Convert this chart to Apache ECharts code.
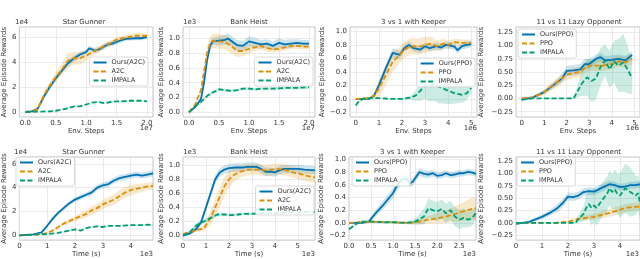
<!DOCTYPE html>
<html><head><meta charset="utf-8">
<script src="https://cdn.jsdelivr.net/npm/echarts@6/dist/echarts.min.js"></script>
<style>html,body{margin:0;padding:0;background:#fff}#c{width:640px;height:259px}</style>
</head><body><div id="c"></div>
<script>
// ---- DATA: each point is [x, mean, half-width of shaded band] ----
// Panel 1: Star Gunner vs Env. Steps (x: 1e7, y: 1e4)
const sgEnvOurs = [[0,0,0],[0.1,0.05,0.03],[0.2,0.25,0.1],[0.3,1.2,0.15],[0.4,2.0,0.15],[0.5,2.7,0.2],[0.6,3.3,0.2],[0.7,3.9,0.25],[0.8,4.3,0.25],[0.9,4.6,0.25],[1.0,4.8,0.2],[1.05,5.1,0.2],[1.15,4.9,0.2],[1.25,5.1,0.2],[1.35,5.4,0.2],[1.45,5.5,0.2],[1.55,5.7,0.2],[1.65,5.85,0.15],[1.8,5.9,0.15],[1.9,5.9,0.15],[2.0,6.0,0.15]];
const sgEnvA2C = [[0,0,0],[0.1,0.05,0.03],[0.2,0.2,0.1],[0.3,1.3,0.2],[0.4,2.1,0.3],[0.5,2.8,0.4],[0.6,3.4,0.5],[0.7,4.1,0.6],[0.8,4.3,0.5],[0.9,4.3,0.5],[1.0,4.5,0.4],[1.1,4.8,0.3],[1.2,5.0,0.25],[1.3,5.3,0.2],[1.4,5.5,0.2],[1.5,5.8,0.2],[1.6,5.9,0.2],[1.7,6.0,0.2],[1.8,6.1,0.2],[1.9,6.1,0.2],[2.0,6.1,0.15]];
const sgEnvImpala = [[0,0,0],[0.2,0.03,0.02],[0.4,0.05,0.03],[0.5,0.1,0.05],[0.6,0.2,0.05],[0.7,0.3,0.05],[0.8,0.45,0.05],[0.9,0.45,0.05],[1.0,0.6,0.05],[1.1,0.75,0.05],[1.2,0.8,0.05],[1.3,0.7,0.05],[1.4,0.8,0.05],[1.5,0.85,0.05],[1.6,0.85,0.05],[1.7,0.9,0.05],[1.8,0.9,0.05],[1.9,0.9,0.05],[2.0,0.85,0.05]];
// Panel 2: Bank Heist vs Env. Steps (x: 1e7, y: 1e3)
const bhEnvOurs = [[0,0,0],[0.1,0.07,0.02],[0.2,0.18,0.03],[0.25,0.4,0.05],[0.3,0.7,0.06],[0.35,0.9,0.06],[0.4,0.96,0.05],[0.5,0.97,0.06],[0.6,0.98,0.07],[0.65,1.0,0.07],[0.7,0.97,0.07],[0.8,0.91,0.07],[0.9,0.9,0.07],[1.0,0.96,0.07],[1.1,0.94,0.07],[1.2,0.92,0.06],[1.3,0.93,0.06],[1.4,0.9,0.06],[1.5,0.94,0.06],[1.6,0.92,0.06],[1.7,0.93,0.06],[1.8,0.94,0.05],[1.9,0.93,0.05],[2.0,0.93,0.05]];
const bhEnvA2C = [[0,0,0],[0.1,0.1,0.02],[0.2,0.3,0.04],[0.25,0.55,0.06],[0.3,0.8,0.08],[0.35,0.93,0.1],[0.4,0.97,0.1],[0.5,0.96,0.1],[0.6,0.95,0.1],[0.7,0.9,0.1],[0.8,0.83,0.08],[0.9,0.83,0.07],[1.0,0.86,0.06],[1.1,0.88,0.05],[1.2,0.9,0.05],[1.3,0.87,0.05],[1.4,0.85,0.04],[1.5,0.86,0.04],[1.6,0.88,0.04],[1.7,0.9,0.04],[1.8,0.9,0.04],[1.9,0.89,0.04],[2.0,0.89,0.04]];
const bhEnvImpala = [[0,0,0],[0.1,0.08,0.01],[0.2,0.14,0.02],[0.3,0.22,0.02],[0.4,0.27,0.02],[0.5,0.31,0.02],[0.6,0.3,0.02],[0.7,0.29,0.02],[0.8,0.3,0.02],[0.9,0.32,0.02],[1.0,0.32,0.02],[1.1,0.31,0.02],[1.2,0.32,0.02],[1.4,0.32,0.02],[1.6,0.33,0.02],[1.8,0.33,0.02],[2.0,0.34,0.02]];
// Panel 3: 3 vs 1 with Keeper vs Env. Steps (x: 1e6)
const kpEnvOurs = [[0,0,0.01],[0.3,0,0.01],[0.6,0,0.01],[0.8,0.05,0.03],[1.0,0.2,0.05],[1.3,0.45,0.06],[1.6,0.68,0.07],[1.9,0.65,0.06],[2.1,0.75,0.05],[2.3,0.8,0.05],[2.5,0.75,0.05],[2.8,0.73,0.05],[3.0,0.78,0.05],[3.2,0.75,0.05],[3.5,0.78,0.05],[3.7,0.76,0.05],[3.9,0.8,0.05],[4.1,0.79,0.05],[4.3,0.77,0.05],[4.4,0.72,0.05],[4.6,0.78,0.05],[4.8,0.8,0.05],[5.0,0.81,0.05]];
const kpEnvPPO = [[0,0,0.01],[0.6,0.01,0.01],[0.8,0.05,0.05],[1.0,0.15,0.12],[1.3,0.35,0.15],[1.6,0.55,0.15],[1.9,0.65,0.12],[2.1,0.73,0.12],[2.4,0.78,0.12],[2.7,0.77,0.12],[3.0,0.8,0.12],[3.3,0.82,0.1],[3.5,0.78,0.08],[3.8,0.82,0.07],[4.0,0.8,0.06],[4.3,0.84,0.05],[4.6,0.83,0.05],[5.0,0.83,0.05]];
const kpEnvImpala = [[0,-0.1,0.02],[0.1,-0.05,0.02],[0.3,0,0.02],[0.6,0.01,0.01],[1.0,0.01,0.01],[1.5,0,0.01],[2.0,0,0.01],[2.4,0.02,0.03],[2.6,0.05,0.08],[2.8,0.12,0.15],[3.0,0.2,0.2],[3.2,0.18,0.22],[3.4,0.22,0.25],[3.6,0.18,0.25],[3.8,0.15,0.22],[4.0,0.12,0.2],[4.3,0.08,0.15],[4.6,0.06,0.12],[4.8,0.08,0.1],[5.0,0.16,0.08]];
// Panel 4: 11 vs 11 Lazy Opponent vs Env. Steps (x: 1e6)
const lzEnvOurs = [[0,-0.02,0.02],[0.5,0.02,0.02],[1.0,0.12,0.04],[1.5,0.28,0.06],[1.8,0.38,0.08],[2.0,0.52,0.1],[2.3,0.53,0.1],[2.6,0.55,0.1],[2.8,0.65,0.1],[3.0,0.65,0.1],[3.3,0.75,0.08],[3.5,0.78,0.08],[3.7,0.72,0.08],[4.0,0.73,0.08],[4.3,0.75,0.08],[4.6,0.72,0.08],[4.9,0.82,0.07]];
const lzEnvPPO = [[0,0,0.02],[0.5,0.02,0.02],[1.0,0.12,0.05],[1.5,0.28,0.08],[2.0,0.45,0.1],[2.3,0.48,0.1],[2.6,0.5,0.1],[2.8,0.58,0.1],[3.0,0.62,0.1],[3.3,0.62,0.1],[3.6,0.62,0.1],[4.0,0.65,0.1],[4.3,0.7,0.1],[4.6,0.68,0.1],[4.9,0.75,0.1]];
const lzEnvImpala = [[0,-0.02,0.01],[0.5,0,0.01],[1.0,0,0.01],[1.5,0,0.01],[2.0,0,0.01],[2.3,0,0.02],[2.5,0.15,0.12],[2.7,0.3,0.25],[2.9,0.4,0.35],[3.1,0.33,0.4],[3.3,0.38,0.4],[3.5,0.6,0.35],[3.7,0.72,0.3],[3.9,0.55,0.35],[4.1,0.7,0.4],[4.3,0.62,0.5],[4.5,0.68,0.55],[4.7,0.55,0.45],[4.9,0.38,0.3]];
// Panel 5: Star Gunner vs Time (x: 1e3 s, y: 1e4)
const sgTimeOurs = [[0,0,0.02],[0.5,0.08,0.03],[0.8,0.25,0.05],[1.0,0.8,0.1],[1.2,1.4,0.15],[1.4,1.9,0.15],[1.6,2.3,0.2],[1.8,2.7,0.2],[2.0,3.0,0.2],[2.2,3.2,0.2],[2.4,3.4,0.2],[2.6,3.6,0.25],[2.8,4.0,0.25],[3.0,4.2,0.25],[3.2,4.3,0.25],[3.4,4.6,0.25],[3.6,4.8,0.25],[3.8,4.9,0.25],[4.0,5.0,0.25],[4.2,5.1,0.25],[4.4,5.0,0.25],[4.6,5.1,0.25],[4.8,5.2,0.25]];
const sgTimeA2C = [[0,0,0.02],[0.8,0.1,0.03],[1.0,0.2,0.05],[1.2,0.4,0.08],[1.4,0.7,0.1],[1.6,1.0,0.15],[1.8,1.2,0.2],[2.0,1.4,0.2],[2.2,1.6,0.25],[2.4,1.8,0.3],[2.6,2.1,0.35],[2.8,2.3,0.35],[3.0,2.6,0.4],[3.2,2.8,0.4],[3.4,3.0,0.45],[3.6,3.3,0.45],[3.8,3.6,0.45],[4.0,3.8,0.45],[4.2,3.9,0.4],[4.4,4.0,0.35],[4.6,4.1,0.3],[4.8,4.15,0.3]];
const sgTimeImpala = [[0,0,0.01],[1.0,0.1,0.03],[1.4,0.2,0.04],[1.8,0.4,0.05],[2.0,0.5,0.05],[2.2,0.4,0.05],[2.4,0.6,0.05],[2.6,0.7,0.05],[2.8,0.75,0.05],[3.0,0.7,0.05],[3.2,0.8,0.05],[3.6,0.8,0.05],[4.0,0.85,0.05],[4.4,0.85,0.05],[4.6,0.9,0.05],[4.8,0.85,0.05]];
// Panel 6: Bank Heist vs Time (x: 1e3 s, y: 1e3)
const bhTimeOurs = [[0,0,0.02],[0.3,0.03,0.02],[0.6,0.1,0.03],[0.8,0.2,0.04],[1.0,0.4,0.05],[1.2,0.6,0.05],[1.4,0.8,0.06],[1.6,0.9,0.06],[1.8,0.94,0.06],[2.0,0.96,0.06],[2.3,0.97,0.06],[2.6,0.97,0.06],[2.8,0.98,0.06],[3.0,0.98,0.06],[3.2,0.98,0.06],[3.4,0.95,0.06],[3.6,0.91,0.06],[3.8,0.91,0.06],[4.0,0.9,0.06],[4.2,0.93,0.06],[4.4,0.95,0.06],[4.7,0.95,0.06],[5.0,0.95,0.06],[5.3,0.94,0.06],[5.75,0.93,0.06]];
const bhTimeA2C = [[0,0.02,0.02],[0.3,0.05,0.02],[0.6,0.08,0.03],[0.9,0.1,0.04],[1.2,0.25,0.1],[1.4,0.4,0.13],[1.6,0.55,0.14],[1.8,0.7,0.14],[2.0,0.8,0.12],[2.2,0.86,0.1],[2.4,0.9,0.09],[2.6,0.92,0.08],[2.8,0.94,0.08],[3.0,0.94,0.08],[3.3,0.94,0.08],[3.6,0.93,0.08],[3.9,0.94,0.08],[4.2,0.95,0.08],[4.5,0.93,0.08],[4.8,0.9,0.08],[5.1,0.88,0.08],[5.4,0.85,0.08],[5.75,0.83,0.08]];
const bhTimeImpala = [[0,0,0.01],[0.3,0.05,0.02],[0.6,0.15,0.03],[0.9,0.2,0.03],[1.2,0.25,0.03],[1.5,0.3,0.03],[1.8,0.3,0.02],[2.1,0.29,0.02],[2.4,0.3,0.02],[2.7,0.31,0.02],[3.0,0.31,0.02],[3.5,0.32,0.02],[4.0,0.32,0.02],[4.5,0.33,0.02],[5.0,0.33,0.02],[5.75,0.34,0.02]];
// Panel 7: 3 vs 1 with Keeper vs Time (x: 1e3 s)
const kpTimeOurs = [[0,0,0.01],[0.3,0,0.01],[0.45,0.02,0.02],[0.6,0.15,0.05],[0.8,0.3,0.07],[1.0,0.47,0.08],[1.1,0.6,0.08],[1.2,0.68,0.08],[1.3,0.7,0.07],[1.38,0.62,0.06],[1.45,0.65,0.06],[1.5,0.7,0.06],[1.6,0.8,0.06],[1.7,0.77,0.06],[1.8,0.76,0.06],[1.9,0.78,0.05],[2.0,0.74,0.05],[2.1,0.75,0.05],[2.2,0.78,0.05],[2.3,0.75,0.05],[2.4,0.76,0.05],[2.5,0.78,0.05],[2.6,0.78,0.05],[2.7,0.8,0.05],[2.8,0.79,0.05],[2.88,0.77,0.05]];
const kpTimePPO = [[0,0,0.01],[0.5,0.02,0.01],[1.0,0.01,0.01],[1.4,0,0.02],[1.6,0.02,0.04],[1.8,0.05,0.06],[2.0,0.07,0.08],[2.2,0.1,0.1],[2.4,0.14,0.12],[2.6,0.18,0.15],[2.8,0.22,0.18],[2.88,0.23,0.18]];
const kpTimeImpala = [[0,-0.1,0.02],[0.1,-0.05,0.02],[0.2,0,0.02],[0.3,0.02,0.02],[0.5,0.02,0.02],[0.8,0.01,0.02],[1.0,0.01,0.02],[1.3,0,0.02],[1.5,0.02,0.05],[1.7,0.1,0.12],[1.8,0.23,0.15],[1.9,0.2,0.15],[2.0,0.18,0.15],[2.1,0.22,0.15],[2.2,0.15,0.15],[2.3,0.2,0.15],[2.4,0.1,0.15],[2.5,0.05,0.15],[2.6,0.08,0.15],[2.7,0.05,0.12],[2.8,0.08,0.12],[2.88,0.16,0.1]];
// Panel 8: 11 vs 11 Lazy Opponent vs Time (x: 1e3 s)
const lzTimeOurs = [[0,-0.02,0.02],[0.5,0.02,0.02],[0.8,0.08,0.04],[1.0,0.12,0.05],[1.3,0.2,0.06],[1.6,0.3,0.08],[1.8,0.4,0.08],[2.0,0.53,0.08],[2.2,0.52,0.08],[2.4,0.55,0.08],[2.6,0.62,0.08],[2.8,0.64,0.08],[3.0,0.63,0.08],[3.2,0.68,0.08],[3.4,0.73,0.08],[3.6,0.78,0.07],[3.8,0.76,0.07],[4.0,0.72,0.07],[4.2,0.73,0.07],[4.4,0.76,0.07],[4.6,0.76,0.07],[4.77,0.78,0.07]];
const lzTimePPO = [[0,0,0.01],[1.0,0,0.01],[1.5,0,0.01],[2.0,0.02,0.02],[2.2,0.05,0.03],[2.4,0.08,0.04],[2.7,0.1,0.05],[3.0,0.12,0.06],[3.3,0.16,0.07],[3.6,0.2,0.08],[3.9,0.25,0.08],[4.2,0.3,0.08],[4.5,0.32,0.08],[4.77,0.33,0.08]];
const lzTimeImpala = [[0,0,0.01],[1.0,0,0.01],[2.0,0,0.01],[2.3,0,0.02],[2.4,0.08,0.08],[2.6,0.18,0.15],[2.7,0.3,0.25],[2.8,0.38,0.3],[2.9,0.3,0.35],[3.0,0.35,0.35],[3.1,0.3,0.35],[3.3,0.45,0.35],[3.5,0.58,0.35],[3.6,0.7,0.35],[3.7,0.62,0.35],[3.8,0.68,0.4],[3.9,0.58,0.4],[4.0,0.55,0.45],[4.2,0.7,0.5],[4.4,0.62,0.5],[4.6,0.55,0.4],[4.7,0.6,0.35],[4.77,0.4,0.3]];

// Tick values
const ticksEnv7 = [0,0.5,1.0,1.5,2.0];
const ticksEnv6 = [0,1,2,3,4,5];
const ticksY1e4 = [0,2,4,6];
const ticksYBank = [0,0.2,0.4,0.6,0.8,1.0];
const ticksYKeeper = [-0.2,0,0.2,0.4,0.6,0.8,1.0];
const ticksYLazy = [-0.25,0,0.25,0.5,0.75,1.0,1.25];
const ticksTimeSG = [0,1,2,3,4];
const ticksTimeBH = [0,1,2,3,4,5];
const ticksTimeKP = [0,0.5,1.0,1.5,2.0,2.5];
const ticksTimeLZ = [0,1,2,3,4];

const titles = ['Star Gunner','Bank Heist','3 vs 1 with Keeper','11 vs 11 Lazy Opponent'];

// ---- STYLE / LAYOUT ----
const FONT = 'DejaVu Sans';
const TXT = '#333';
const COL = {ours:'#0173b2', base:'#de8f05', impala:'#029e73'};
const BAND = {ours:'rgba(1,115,178,0.2)', base:'rgba(222,143,5,0.2)', impala:'rgba(2,158,115,0.2)'};

function fmt(d){ return v => (v < 0 ? '\u2212' : '') + Math.abs(v).toFixed(d); }

const panels = [
 {title:titles[0], g:[15,27,138,90], x:[-0.1,2.1,ticksEnv7,1,'Env. Steps','1e7'], y:[-0.4,6.8,ticksY1e4,0,'1e4',10],
  curves:[['Ours(A2C)',sgEnvOurs,'ours'],['A2C',sgEnvA2C,'base'],['IMPALA',sgEnvImpala,'impala']], leg:{right:492,top:57}},
 {title:titles[1], g:[183,27,132,90], x:[-0.1,2.1,ticksEnv7,1,'Env. Steps','1e7'], y:[-0.064,1.155,ticksYBank,1,'1e3',18],
  curves:[['Ours(A2C)',bhEnvOurs,'ours'],['A2C',bhEnvA2C,'base'],['IMPALA',bhEnvImpala,'impala']], leg:{right:327,top:57}},
 {title:titles[2], g:[350,27,127,90], x:[-0.25,5.25,ticksEnv6,0,'Env. Steps','1e6'], y:[-0.27,1.065,ticksYKeeper,1,null,24],
  curves:[['Ours(PPO)',kpEnvOurs,'ours'],['PPO',kpEnvPPO,'base'],['IMPALA',kpEnvImpala,'impala']], leg:{right:165,top:58}},
 {title:titles[3], g:[516,27,126,90], x:[-0.25,5.25,ticksEnv6,0,'Env. Steps','1e6'], y:[-0.35,1.35,ticksYLazy,2,null,31],
  curves:[['Ours(PPO)',lzEnvOurs,'ours'],['PPO',lzEnvPPO,'base'],['IMPALA',lzEnvImpala,'impala']], leg:{left:518,top:29}},
 {title:titles[0], g:[14,157,139,86], x:[0,4.8,ticksTimeSG,0,'Time (s)','1e3'], y:[-0.4,6.57,ticksY1e4,0,'1e4',9],
  curves:[['Ours(A2C)',sgTimeOurs,'ours'],['A2C',sgTimeA2C,'base'],['IMPALA',sgTimeImpala,'impala']], leg:{left:16,top:157}},
 {title:titles[1], g:[183,157,132,86], x:[0,5.75,ticksTimeBH,0,'Time (s)','1e3'], y:[-0.065,1.12,ticksYBank,1,'1e3',18],
  curves:[['Ours(A2C)',bhTimeOurs,'ours'],['A2C',bhTimeA2C,'base'],['IMPALA',bhTimeImpala,'impala']], leg:{right:326,top:186}},
 {title:titles[2], g:[349,157,127,86], x:[0,2.88,ticksTimeKP,1,'Time (s)','1e3'], y:[-0.27,1.035,ticksYKeeper,1,null,23],
  curves:[['Ours(PPO)',kpTimeOurs,'ours'],['PPO',kpTimePPO,'base'],['IMPALA',kpTimeImpala,'impala']], leg:{left:352,top:157}},
 {title:titles[3], g:[516,157,125,86], x:[0,4.77,ticksTimeLZ,0,'Time (s)','1e3'], y:[-0.35,1.33,ticksYLazy,2,null,31],
  curves:[['Ours(PPO)',lzTimeOurs,'ours'],['PPO',lzTimePPO,'base'],['IMPALA',lzTimeImpala,'impala']], leg:{left:517,top:157}}
];

const grid = [], xAxis = [], yAxis = [], series = [], legend = [], graphic = [];
const tStyle = {fontFamily:FONT, fontSize:7, color:TXT};

function bandRender(pts, fill) {
  return function (params, api) {
    if (params.dataIndex !== 0) return null;
    const up = pts.map(d => api.coord([d[0], d[1] + d[2]]));
    const lo = pts.map(d => api.coord([d[0], d[1] - d[2]])).reverse();
    return {type:'polygon', shape:{points: up.concat(lo)}, style:{fill: fill, stroke: null}, silent:true};
  };
}

panels.forEach((p, i) => {
  const [L,T,W,H] = p.g;
  grid.push({left:L, top:T, width:W, height:H, show:true, borderColor:'#c4c4c4', borderWidth:1, backgroundColor:'transparent'});
  xAxis.push({gridIndex:i, type:'value', min:p.x[0], max:p.x[1],
    axisLine:{show:false}, axisTick:{show:false, customValues:p.x[2]},
    axisLabel:{customValues:p.x[2], formatter:fmt(p.x[3]), fontFamily:FONT, fontSize:7, color:TXT, margin:3, showMinLabel:true, showMaxLabel:true},
    splitLine:{show:true, lineStyle:{color:'#e6e6e6', width:0.8}},
    name:p.x[4], nameLocation:'middle', nameGap:9, nameTextStyle:tStyle});
  yAxis.push({gridIndex:i, type:'value', min:p.y[0], max:p.y[1],
    axisLine:{show:false}, axisTick:{show:false, customValues:p.y[2]},
    axisLabel:{customValues:p.y[2], formatter:fmt(p.y[3]), fontFamily:FONT, fontSize:7, color:TXT, margin:3},
    splitLine:{show:true, lineStyle:{color:'#e6e6e6', width:0.8}},
    name:'Average Episode Rewards', nameLocation:'middle', nameGap:p.y[5], nameTextStyle:tStyle});
  // shaded bands
  p.curves.forEach((c, k) => {
    series.push({type:'custom', name:'_band'+i+'_'+k, xAxisIndex:i, yAxisIndex:i, clip:true, silent:true, z:1,
      data:c[1].map(d => [d[0], d[1]]), encode:{x:0, y:1},
      renderItem: bandRender(c[1], BAND[c[2]]), animation:false});
  });
  p.curves.forEach((c) => {
    series.push({type:'line', name:c[0], xAxisIndex:i, yAxisIndex:i,
      data:c[1].map(d => [d[0], d[1]]), symbol:'none', z:3, color:COL[c[2]],
      lineStyle:{color:COL[c[2]], width:1.8, type: c[2]==='ours' ? 'solid' : [5,2.5]}, animation:false});
  });
  legend.push(Object.assign({data:p.curves.map(c=>c[0]), orient:'vertical', itemWidth:13, itemHeight:7, itemGap:2,
    padding:[2,3,2,3], borderColor:'#d0d0d0', borderWidth:0.8, borderRadius:2, backgroundColor:'rgba(255,255,255,0.85)',
    itemStyle:{opacity:0}, textStyle:{fontFamily:FONT, fontSize:6.5, color:TXT}, selectedMode:false}, p.leg));
  // title and exponent labels
  graphic.push({type:'text', x:L+W/2, y:T-1, style:{text:p.title, font:'7px "DejaVu Sans"', fill:TXT, textAlign:'center', textVerticalAlign:'bottom', align:'center', verticalAlign:'bottom'}});
  if (p.y[4]) graphic.push({type:'text', x:L, y:T-1, style:{text:p.y[4], font:'7px "DejaVu Sans"', fill:TXT, textAlign:'left', textVerticalAlign:'bottom', align:'left', verticalAlign:'bottom'}});
  graphic.push({type:'text', x:Math.min(L+W, 639), y:T+H+11, style:{text:p.x[5], font:'7px "DejaVu Sans"', fill:TXT, textAlign:'right', textVerticalAlign:'middle', align:'right', verticalAlign:'middle'}});
});

const chart = echarts.init(document.getElementById('c'), null, {renderer:'canvas'});
chart.setOption({animation:false, backgroundColor:'#fff', grid, xAxis, yAxis, series, legend, graphic});
</script></body></html>
